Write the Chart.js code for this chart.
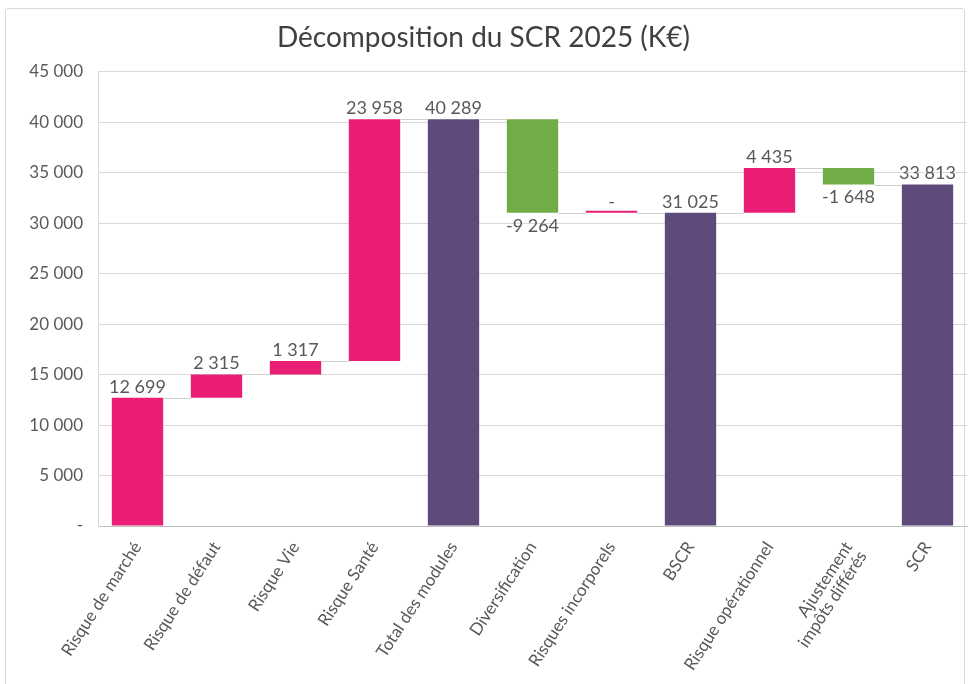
<!DOCTYPE html>
<html>
<head>
<meta charset="utf-8">
<script src="https://cdn.jsdelivr.net/npm/chart.js@4"></script>
<style>
  body { margin: 0; background: #fff; }
  #wrap { position: relative; width: 969px; height: 684px; }
  #frame { position: absolute; left: 5px; top: 8px; width: 960px; height: 680px;
           border: 1px solid #d9d9d9; border-radius: 3px; box-sizing: border-box; }
</style>
</head>
<body>
<div id="wrap">
  <div id="frame"></div>
  <canvas id="scr"></canvas>
</div>
<script>
// categories, deltas and which bars are totals
const categories = ['Risque de marché', 'Risque de défaut', 'Risque Vie', 'Risque Santé',
  'Total des modules', 'Diversification', 'Risques incorporels', 'BSCR',
  'Risque opérationnel', ['Ajustement', 'impôts différés'], 'SCR'];
const values = [12699, 2315, 1317, 23958, 40289, -9264, 0, 31025, 4435, -1648, 33813];
const isTotal = [false, false, false, false, true, false, false, true, false, false, true];
const yTicks = [0, 5000, 10000, 15000, 20000, 25000, 30000, 35000, 40000, 45000];

const pink = '#E91E74', purple = '#5E4A7B', green = '#70AD47';
const grey = '#595959';
const font = 'Lato';

// floating bars [start, end] from the running total
let run = 0;
const bars = values.map((v, i) => {
  if (isTotal[i]) { run = v; return [0, v]; }
  const b = [run, run + v];
  run += v;
  return b;
});
const colors = values.map((v, i) => isTotal[i] ? purple : (v < 0 ? green : pink));

function fmt(v) {
  if (v === 0) return '-';
  const s = Math.abs(v).toString().replace(/\B(?=(\d{3})+(?!\d))/g, ' ');
  return (v < 0 ? '-' : '') + s;
}

const connectors = {
  id: 'connectors',
  afterDatasetsDraw(chart) {
    const ctx = chart.ctx;
    const meta = chart.getDatasetMeta(0);
    const y = chart.scales.y;
    ctx.save();
    ctx.strokeStyle = '#d0d0d0';
    ctx.lineWidth = 1;
    for (let i = 0; i < bars.length - 1; i++) {
      const a = meta.data[i], b = meta.data[i + 1];
      const py = Math.round(y.getPixelForValue(bars[i][1])) + 0.5;
      ctx.beginPath();
      ctx.moveTo(a.x + a.width / 2, py);
      ctx.lineTo(b.x - b.width / 2, py);
      ctx.stroke();
    }
    ctx.restore();
  }
};

const valueLabels = {
  id: 'valueLabels',
  afterDatasetsDraw(chart) {
    const ctx = chart.ctx;
    const meta = chart.getDatasetMeta(0);
    const y = chart.scales.y;
    ctx.save();
    ctx.font = '18px ' + font;
    ctx.fillStyle = grey;
    ctx.textAlign = 'center';
    values.forEach((v, i) => {
      const el = meta.data[i];
      if (v < 0) {
        ctx.textBaseline = 'top';
        ctx.fillText(fmt(v), el.x, y.getPixelForValue(bars[i][1]) + 4);
      } else {
        ctx.textBaseline = 'bottom';
        ctx.fillText(fmt(v), el.x, y.getPixelForValue(bars[i][1]) - 2);
      }
    });
    ctx.restore();
  }
};

new Chart(document.getElementById('scr'), {
  type: 'bar',
  data: {
    labels: categories,
    datasets: [{
      data: bars,
      backgroundColor: colors,
      barPercentage: 0.65,
      categoryPercentage: 1,
      minBarLength: 2
    }]
  },
  options: {
    responsive: true,
    maintainAspectRatio: false,
    animation: false,
    layout: { padding: { top: 10, right: 2, left: 0, bottom: 0 } },
    plugins: {
      legend: { display: false },
      tooltip: { enabled: false },
      title: {
        display: true,
        text: 'Décomposition du SCR 2025 (K€)',
        color: '#404040',
        font: { family: font, size: 28, weight: 'normal' },
        padding: { top: 11, bottom: 17 }
      }
    },
    scales: {
      x: {
        grid: { display: false, drawTicks: false },
        border: { color: '#bfbfbf' },
        ticks: {
          color: grey,
          font: { family: font, size: 17, lineHeight: 1.0 },
          minRotation: 57,
          maxRotation: 57,
          padding: 13,
          autoSkip: false
        },
        afterFit(scale) { scale.height = 158; }
      },
      y: {
        min: 0,
        max: 45000,
        afterBuildTicks(scale) { scale.ticks = yTicks.map(v => ({ value: v })); },
        grid: { color: '#d9d9d9', drawTicks: false },
        border: { color: '#d9d9d9' },
        ticks: {
          color: grey,
          font: { family: font, size: 17 },
          padding: 15,
          callback: v => fmt(v)
        },
        afterFit(scale) { scale.width = 98; }
      }
    }
  },
  plugins: [connectors, valueLabels]
});
</script>
</body>
</html>
